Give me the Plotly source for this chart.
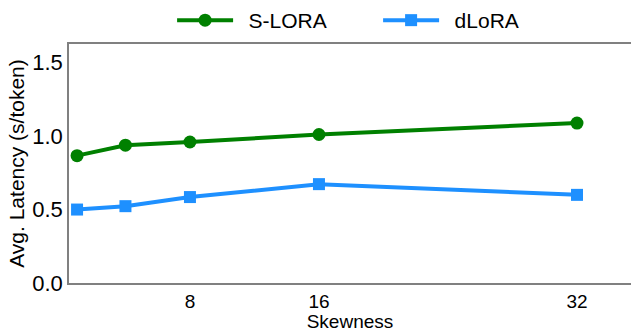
import plotly.graph_objects as go

skewness = [1, 4, 8, 16, 32]
slora = [0.867, 0.938, 0.96, 1.011, 1.089]
dlora = [0.50, 0.523, 0.585, 0.673, 0.60]
xticks = [8, 16, 32]
yticks = [0.0, 0.5, 1.0, 1.5]

FONT = "Liberation Sans, Arial, sans-serif"

fig = go.Figure()
fig.add_trace(go.Scatter(x=skewness, y=slora, name="\u2002S-LORA", mode="lines+markers",
                         line=dict(color="#008000", width=4),
                         marker=dict(symbol="circle", size=13, color="#008000")))
fig.add_trace(go.Scatter(x=skewness, y=dlora, name="\u2002dLoRA", mode="lines+markers",
                         line=dict(color="#1e90ff", width=4),
                         marker=dict(symbol="square", size=12, color="#1e90ff")))

fig.update_layout(
    width=631, height=332,
    margin=dict(l=69, r=0, t=44, b=44),
    paper_bgcolor="white", plot_bgcolor="white",
    font=dict(family=FONT, size=20, color="black"),
    showlegend=True,
    legend=dict(orientation="h", x=0.55, xanchor="center", y=1.0, yanchor="top",
                yref="container", font=dict(size=21), itemwidth=56,
                entrywidth=135, bgcolor="rgba(0,0,0,0)"),
    xaxis=dict(range=[0.5, 35.35], tickvals=xticks, ticktext=[str(v) for v in xticks],
               showgrid=False, zeroline=False, showline=True, linecolor="#808080",
               linewidth=1.5, mirror=True, ticks="", automargin=True,
               tickfont=dict(size=19),
               title=dict(text="Skewness", font=dict(size=19), standoff=7)),
    yaxis=dict(range=[0, 1.627], tickvals=yticks, ticktext=[f"{v:.1f}" for v in yticks],
               showgrid=False, zeroline=False, showline=True, linecolor="#808080",
               linewidth=1.5, ticks="", automargin=False,
               tickfont=dict(size=22),
               title=dict(text="Avg. Latency (s/token)", font=dict(size=21), standoff=2)),
)
fig.write_html("out.html")
